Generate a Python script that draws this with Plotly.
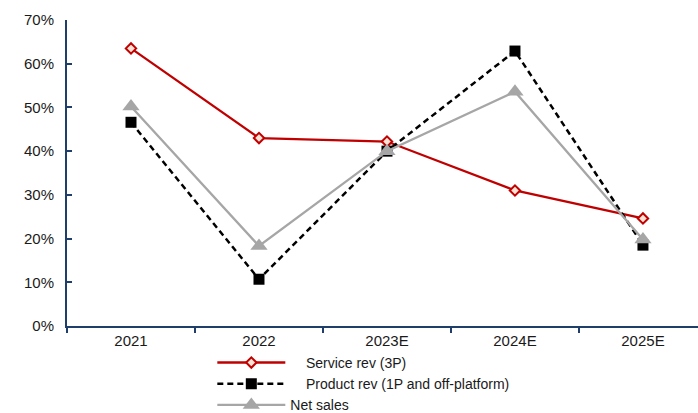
import plotly.graph_objects as go

years = ["2021", "2022", "2023E", "2024E", "2025E"]
service_rev = [0.635, 0.430, 0.422, 0.310, 0.246]
product_rev = [0.466, 0.107, 0.400, 0.629, 0.185]
net_sales = [0.502, 0.183, 0.400, 0.536, 0.198]

AXIS_COLOR = "#1F3F6A"
FONT = "Liberation Sans, Arial, sans-serif"
PAD = "\u00a0" * 4  # indent for the first two legend labels

fig = go.Figure()
fig.add_trace(go.Scatter(
    x=years, y=service_rev, name=PAD + "Service rev (3P)", mode="lines+markers",
    line=dict(color="#C00000", width=2.3),
    marker=dict(symbol="diamond", size=8, color="#FBE3D6",
                line=dict(color="#C00000", width=2)),
))
fig.add_trace(go.Scatter(
    x=years, y=product_rev, name=PAD + "Product rev (1P and off-platform)",
    mode="lines+markers",
    line=dict(color="#000000", width=2.5, dash="6px,4px"),
    marker=dict(symbol="square", size=11, color="#000000"),
))
fig.add_trace(go.Scatter(
    x=years, y=net_sales, name="Net sales", mode="lines+markers",
    line=dict(color="#A6A6A6", width=2.3),
    marker=dict(symbol="triangle-up", size=15, color="#A6A6A6"),
))

fig.update_layout(
    width=698, height=413,
    margin=dict(l=67, r=0, t=20, b=87, autoexpand=False),
    plot_bgcolor="white", paper_bgcolor="white",
    font=dict(family=FONT, size=15, color="#1a1a1a"),
    showlegend=True,
    legend=dict(
        orientation="v", x=0.2303, xanchor="left",
        yref="container", y=0.160, yanchor="top",
        font=dict(size=14, color="#1a1a1a"), itemwidth=68,
        bgcolor="rgba(0,0,0,0)", tracegroupgap=0,
    ),
    xaxis=dict(
        type="category", range=[-0.5, 4.43],
        showline=True, linecolor=AXIS_COLOR, linewidth=2,
        ticks="outside", tickson="boundaries", ticklen=5, tickwidth=2,
        tickcolor=AXIS_COLOR, showgrid=False, zeroline=False,
    ),
    yaxis=dict(
        range=[0, 0.7], dtick=0.1, tickformat=".0%",
        showline=True, linecolor=AXIS_COLOR, linewidth=2,
        ticks="inside", ticklen=5, tickwidth=2, tickcolor=AXIS_COLOR,
        showgrid=False, zeroline=False, ticklabelstandoff=8,
    ),
)

fig.write_html("out.html")
